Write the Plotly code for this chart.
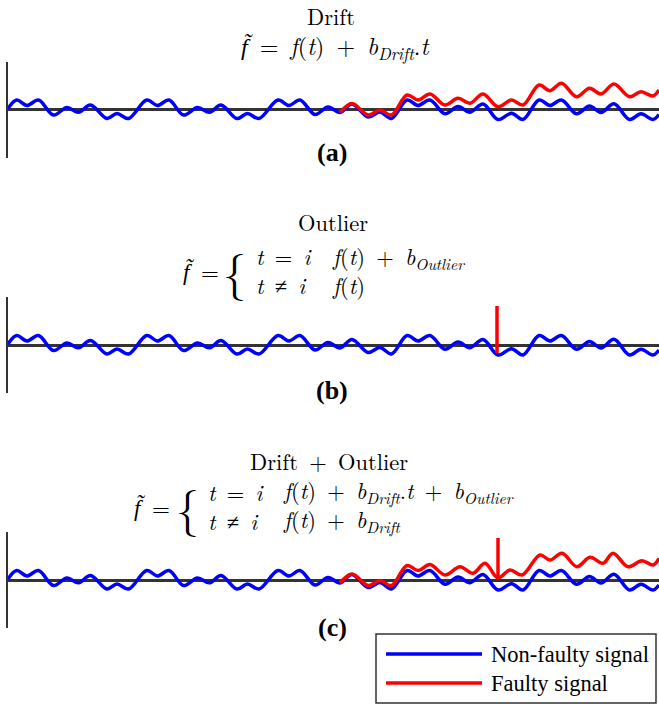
import plotly.graph_objects as go

W, H = 659, 706

# ---------------- data ----------------
# time positions of the signal's turning points (same for every panel)
blue_t = [8, 16.7, 27, 38.5, 53.5, 67, 78.5, 90.5, 107, 117, 128.5,
          146.7, 157.5, 169, 183.5, 197.5, 209.5, 221, 237, 247.5, 259,
          278, 289, 300, 315, 328, 340, 352, 368, 380, 391.5,
          407, 418, 430, 445, 458, 470, 483, 498, 511.5, 523,
          539, 550, 561.5, 576.5, 589.5, 601, 614, 629.5, 641, 653, 659]
blue_y = [1, 9.5, 4, 9.5, -5.5, 2, -2.8, 4.5, -9, -4, -9,
          9.5, 4, 9.5, -5.5, 2, -2.8, 4.5, -9, -4, -9,
          9.5, 4, 9.5, -5, 2.5, -3, 5.5, -7.5, -2.5, -9,
          9.5, 4, 9.5, -4.3, 3, -2.7, 5.5, -10, -3.7, -10,
          9.5, 4, 9.5, -4.3, 3.5, -3, 5.7, -10, -4.3, -10, -5]

# faulty signal, panel (a): drift
drift_t = [340, 352, 368, 380, 391.5, 407, 418, 430, 445, 458, 470, 483, 498,
           511.5, 523, 539, 550, 561.5, 576.5, 589.5, 601, 614, 629.5, 641, 653, 659]
drift_y = [-3, 6, -5.5, -0.5, -5.5, 14.5, 9.5, 15.5, 4.5, 11.2, 6.2, 15.5, 2.8,
           9.5, 4.5, 24.5, 18.8, 26.2, 12.8, 21.2, 15.5, 25.5, 12.8, 17.8, 13.5, 19.5]

# faulty signal, panel (b): outlier at t = i
outlier_t = [497, 497]
outlier_y = [-8, 39]

# faulty signal, panel (c): drift + outlier
both_t = [340, 352, 368, 380, 391.5, 407, 418, 430, 445, 460, 473, 485, 498,
          510, 522, 540, 550, 562, 577, 590, 603, 613, 628, 642, 653, 659]
both_y = [-3, 6, -5.5, -0.5, -5.5, 14.5, 9.5, 15.5, 5, 13.3, 6.7, 16.7, 2,
          10, 5, 25, 20, 26.7, 13.3, 22.7, 16.7, 26.7, 13.3, 19.3, 15, 21.7]
both_spike_t = [498, 498]
both_spike_y = [2, 42]

BLUE = "#0000FF"
RED = "#FF0000"
AX = "#333333"
TIMES = "Liberation Serif"
CM = "Latin Modern Roman"

def px(x):
    return x / W

def py(y):
    return 1 - y / H

# panel vertical placement (pixel rows of top / bottom of each plotting area)
panels = [(61.5, 157.5), (297, 393), (532, 628)]

fig = go.Figure()

def add_line(t, y, color, idx, name, shape="spline"):
    fig.add_trace(go.Scatter(
        x=t, y=y, mode="lines", name=name, showlegend=False,
        legendgroup=name,
        line=dict(color=color, width=3.5, shape=shape, smoothing=1.0),
        xaxis="x" if idx == 1 else f"x{idx}",
        yaxis="y" if idx == 1 else f"y{idx}",
        hoverinfo="skip"))

# panel (a)
add_line(blue_t, blue_y, BLUE, 1, "Non-faulty signal")
add_line(drift_t, drift_y, RED, 1, "Faulty signal")
# panel (b)
add_line(blue_t, blue_y, BLUE, 2, "Non-faulty signal")
add_line(outlier_t, outlier_y, RED, 2, "Faulty signal", shape="linear")
# panel (c)
add_line(blue_t, blue_y, BLUE, 3, "Non-faulty signal")
add_line(both_t, both_y, RED, 3, "Faulty signal")
add_line(both_spike_t, both_spike_y, RED, 3, "Faulty signal", shape="linear")

layout = dict(
    width=W, height=H,
    margin=dict(l=0, r=0, t=0, b=0),
    paper_bgcolor="white", plot_bgcolor="white",
    showlegend=False,
    hovermode=False,
)
for i, (top, bot) in enumerate(panels, start=1):
    xk = "xaxis" if i == 1 else f"xaxis{i}"
    yk = "yaxis" if i == 1 else f"yaxis{i}"
    layout[xk] = dict(domain=[8 / W, 1], range=[8, 659],
                      showgrid=False, zeroline=False, showline=False,
                      showticklabels=False, ticks="",
                      anchor="y" if i == 1 else f"y{i}")
    layout[yk] = dict(domain=[py(bot), py(top)], range=[-48, 48],
                      showgrid=False, zeroline=True, zerolinecolor=AX,
                      zerolinewidth=3, showline=True, linecolor=AX,
                      linewidth=2.5, showticklabels=False, ticks="",
                      anchor="x" if i == 1 else f"x{i}")
fig.update_layout(**layout)

ann = []

def text(s, x, y, size=23, xanchor="center", bold=False, family=CM):
    if bold:
        s = f"<b>{s}</b>"
    ann.append(dict(text=s, x=px(x), y=py(y), xref="paper", yref="paper",
                    xanchor=xanchor, yanchor="middle", showarrow=False,
                    align="left",
                    font=dict(family=family, size=size, color="black")))

G = "\u00a0"          # math spacing around relations / operators
FT = f'<span style="font-family:{TIMES}"><i>f̃</i></span>'
F = "<i>f</i>(<i>t</i>)"
EQ = f"{G}={G}"
PL = f"{G}+{G}"
NE = f"{G}≠{G}"

# panel (a)
text("Drift", 331, 15.5, size=22.5)
text(f"{FT}{EQ}{F}{PL}<i>b</i><sub><i>Drift</i></sub>.<i>t</i>", 335, 46.5, size=24)
text("(a)", 332, 152, size=26, bold=True, family=TIMES)

# panel (b)
text("Outlier", 333, 222, size=22.5)
text(f"{FT}{G}=", 221, 270, xanchor="right")
text("{", 234, 269, size=46)
text(f"<i>t</i>{EQ}<i>i</i><br><i>t</i>{NE}<i>i</i>", 254, 270, size=22.5, xanchor="left")
text(f"{F}{PL}<i>b</i><sub><i>Outlier</i></sub><br>{F}", 330, 270, size=22.5, xanchor="left")
text("(b)", 332, 390, size=26, bold=True, family=TIMES)

# panel (c)
text(f"Drift{PL}Outlier", 329, 461, size=22.5)
text(f"{FT}{G}=", 172, 506, xanchor="right")
text("{", 187, 505, size=46)
text(f"<i>t</i>{EQ}<i>i</i><br><i>t</i>{NE}<i>i</i>", 206, 506, size=22.5, xanchor="left")
text(f"{F}{PL}<i>b</i><sub><i>Drift</i></sub>.<i>t</i>{PL}<i>b</i><sub><i>Outlier</i></sub>"
     f"<br>{F}{PL}<i>b</i><sub><i>Drift</i></sub>",
     281, 506, size=22.5, xanchor="left")
text("(c)", 332, 627, size=26, bold=True, family=TIMES)

# legend (framed key)
legend_names = ["Non-faulty signal", "Faulty signal"]
legend_colors = [BLUE, RED]
legend_rows = [654, 683]
shapes = [dict(type="rect", xref="paper", yref="paper",
               x0=px(376), x1=px(656), y0=py(703), y1=py(634),
               line=dict(color=AX, width=1.5), fillcolor="white", layer="above")]
for name, col, row in zip(legend_names, legend_colors, legend_rows):
    shapes.append(dict(type="line", xref="paper", yref="paper",
                       x0=px(386), x1=px(482), y0=py(row), y1=py(row),
                       line=dict(color=col, width=3.5), layer="above"))
    text(name, 489, row, size=22.5, xanchor="left", family=TIMES)

fig.update_layout(annotations=ann, shapes=shapes)
fig.write_html("out.html", config={"displayModeBar": False, "staticPlot": True},
               post_script="document.body.style.margin='0';")
